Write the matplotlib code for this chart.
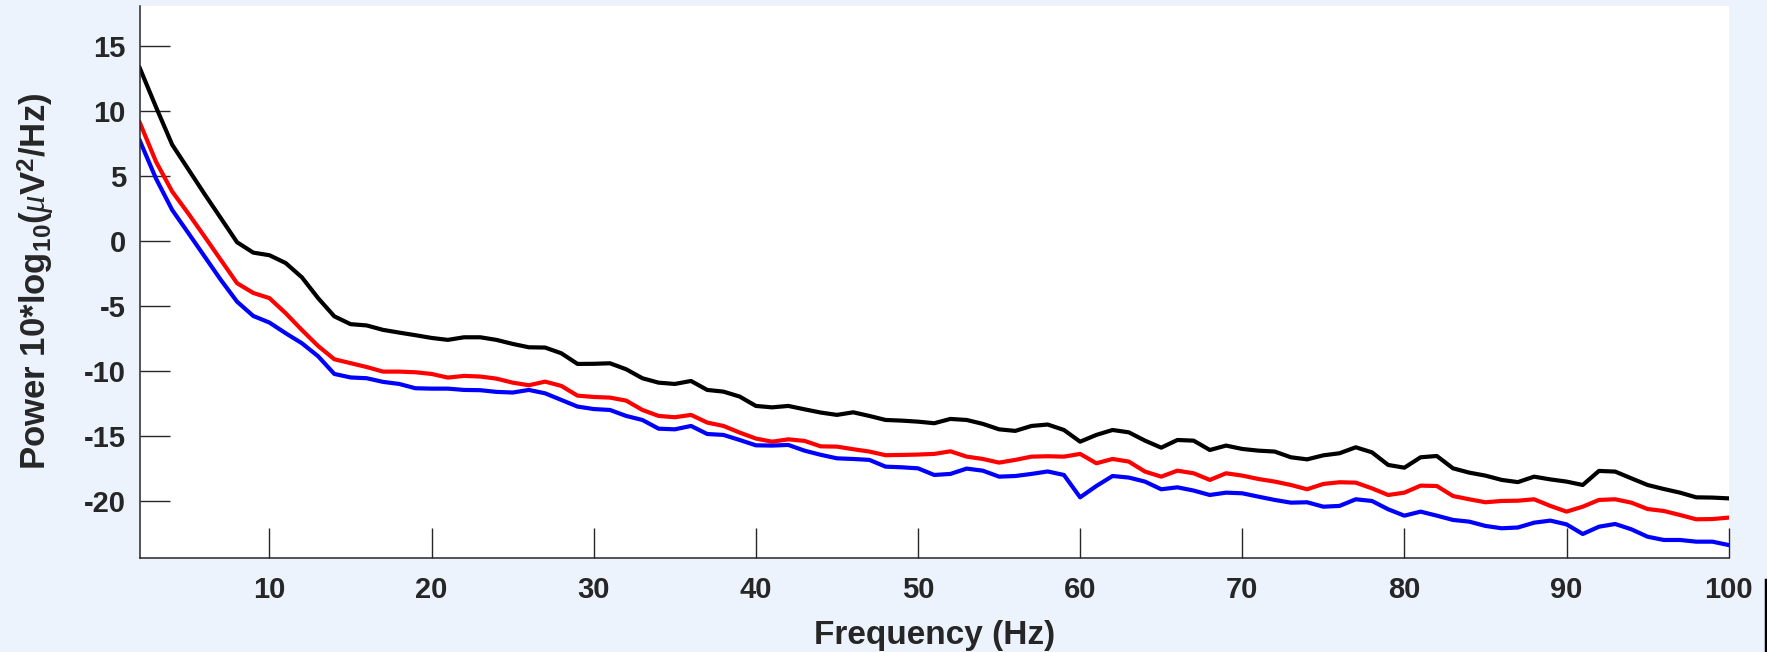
import matplotlib
matplotlib.use("Agg")
import matplotlib.pyplot as plt
from matplotlib.lines import Line2D
import numpy as np

freqs = list(range(2, 101))

power_black = [13.3, 10.3, 7.4, 5.5, 3.6, 1.75, -0.1, -0.9, -1.1, -1.7,
               -2.8, -4.4, -5.8, -6.4, -6.5, -6.84, -7.05, -7.25, -7.46, -7.61,
               -7.41, -7.41, -7.61, -7.92, -8.18, -8.2, -8.64, -9.46, -9.45, -9.41,
               -9.87, -10.56, -10.9, -11.0, -10.77, -11.46, -11.59, -11.97, -12.69, -12.8,
               -12.69, -12.95, -13.2, -13.38, -13.18, -13.46, -13.77, -13.82, -13.9, -14.02,
               -13.69, -13.77, -14.07, -14.49, -14.61, -14.23, -14.12, -14.54, -15.44, -14.92,
               -14.54, -14.72, -15.36, -15.9, -15.31, -15.36, -16.08, -15.74, -16.0, -16.13,
               -16.2, -16.64, -16.8, -16.49, -16.33, -15.87, -16.26, -17.23, -17.44, -16.64,
               -16.54, -17.49, -17.82, -18.05, -18.38, -18.55, -18.13, -18.34, -18.51, -18.77,
               -17.69, -17.74, -18.26, -18.77, -19.08, -19.36, -19.72, -19.74, -19.8]

power_red = [9.1, 6.1, 3.8, 2.1, 0.33, -1.46, -3.25, -4.0, -4.4, -5.56,
             -6.85, -8.08, -9.1, -9.4, -9.7, -10.05, -10.05, -10.1, -10.23, -10.51,
             -10.38, -10.43, -10.59, -10.9, -11.1, -10.82, -11.15, -11.9, -12.0, -12.05,
             -12.28, -13.0, -13.46, -13.56, -13.38, -13.97, -14.23, -14.74, -15.2, -15.44,
             -15.26, -15.38, -15.8, -15.82, -16.02, -16.2, -16.48, -16.46, -16.43, -16.38,
             -16.18, -16.59, -16.77, -17.05, -16.84, -16.59, -16.56, -16.59, -16.38, -17.1,
             -16.77, -16.97, -17.74, -18.13, -17.67, -17.87, -18.38, -17.87, -18.05, -18.31,
             -18.51, -18.77, -19.1, -18.69, -18.56, -18.59, -19.03, -19.54, -19.36, -18.82,
             -18.85, -19.62, -19.87, -20.1, -20.0, -19.98, -19.87, -20.38, -20.82, -20.44,
             -19.92, -19.87, -20.13, -20.62, -20.77, -21.08, -21.41, -21.39, -21.28]

power_blue = [7.72, 4.8, 2.38, 0.6, -1.2, -3.0, -4.67, -5.77, -6.28, -7.1,
              -7.87, -8.87, -10.23, -10.5, -10.56, -10.84, -11.0, -11.33, -11.36, -11.36,
              -11.46, -11.48, -11.61, -11.66, -11.46, -11.72, -12.23, -12.74, -12.93, -13.0,
              -13.46, -13.77, -14.44, -14.49, -14.23, -14.85, -14.92, -15.31, -15.72, -15.74,
              -15.69, -16.13, -16.45, -16.72, -16.77, -16.84, -17.36, -17.41, -17.49, -18.0,
              -17.92, -17.51, -17.67, -18.13, -18.08, -17.92, -17.73, -18.0, -19.72, -18.85,
              -18.08, -18.2, -18.51, -19.1, -18.95, -19.2, -19.54, -19.36, -19.41, -19.67,
              -19.92, -20.13, -20.1, -20.44, -20.38, -19.87, -20.0, -20.64, -21.13, -20.82,
              -21.13, -21.46, -21.59, -21.92, -22.1, -22.04, -21.67, -21.51, -21.8, -22.54,
              -21.98, -21.77, -22.18, -22.75, -23.0, -23.0, -23.13, -23.13, -23.39]

xticks = [10, 20, 30, 40, 50, 60, 70, 80, 90, 100]
yticks = [-20, -15, -10, -5, 0, 5, 10, 15]

TXT = '#262626'
plt.rcParams['font.family'] = ['Liberation Sans', 'DejaVu Sans']
plt.rcParams['axes.unicode_minus'] = False
plt.rcParams['mathtext.fontset'] = 'custom'
plt.rcParams['mathtext.rm'] = 'Liberation Sans:bold'
plt.rcParams['mathtext.bf'] = 'Liberation Sans:bold'
plt.rcParams['mathtext.it'] = 'Liberation Serif:italic'

fig = plt.figure(figsize=(17.67, 6.52), dpi=100, facecolor='#ECF3FD')
ax = fig.add_axes([0.0791, 0.1445, 0.8992, 0.8469])
ax.set_facecolor('white')

lw = 3.0
ax.plot(freqs, power_black, color='black', lw=lw)
ax.plot(freqs, power_red, color=(1, 0, 0), lw=lw)
ax.plot(freqs, power_blue, color=(0, 0, 1), lw=lw)

ax.set_xlim(2, 100)
ax.set_ylim(-24.37, 18.1)
ax.set_xticks(xticks)
ax.set_yticks(yticks)

for s in ['top', 'right']:
    ax.spines[s].set_visible(False)
for s in ['left', 'bottom']:
    ax.spines[s].set_color(TXT)
    ax.spines[s].set_linewidth(1.1)

ax.tick_params(direction='in', length=21.6, width=1.0, color=TXT,
               labelsize=21, labelcolor=TXT)
ax.tick_params(axis='x', pad=13)
ax.tick_params(axis='y', pad=10)
for lab in ax.get_xticklabels() + ax.get_yticklabels():
    lab.set_fontweight('bold')

ax.set_xlabel('Frequency (Hz)', fontsize=24, fontweight='bold', color=TXT)
ax.xaxis.set_label_coords(0.5, -0.113)
ax.set_ylabel(r'Power 10*log$_{\mathrm{10}}$($\mu$V$^{\mathrm{2}}$/Hz)',
              fontsize=25, fontweight='bold', color=TXT)
ax.yaxis.set_label_coords(-0.052, 0.5)

fig.add_artist(Line2D([1765.5 / 1767, 1765.5 / 1767], [0, 72 / 652],
                      transform=fig.transFigure, color='black', lw=2.5))

fig.savefig('out.png', dpi=100, facecolor=fig.get_facecolor())
